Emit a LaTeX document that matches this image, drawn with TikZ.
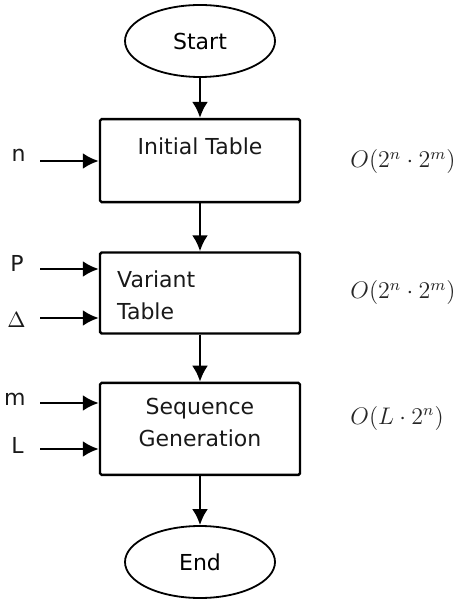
\documentclass[tikz,border=0pt]{standalone}
\usepackage{fontspec}
\setmainfont{DejaVu Sans}
\usepackage{tikz}
\usetikzlibrary{
        arrows.meta,
        positioning,
        shapes.geometric
    }
\tikzset{>={Latex[length=8pt,width=8pt]},node distance=25pt}
\tikzset{
    term/.style={draw,ellipse,line width=0.9pt,minimum width=75pt,minimum height=36pt,inner sep=0pt},
    stage/.style={draw,line width=1.2pt,rounded corners=0.8pt,minimum width=100pt,inner sep=0pt},
    txt/.style={inner sep=0pt,font=\fontsize{11}{16}\selectfont,text=black!90},
    cost/.style={inner sep=0pt,font=\fontsize{11.5}{14}\selectfont,text=black!85,anchor=west},
    flow/.style={->,line width=1.4pt}
}

\begin{document}
\begin{tikzpicture}[x=0.5pt,y=-0.5pt]
                    \useasboundingbox (0,0) rectangle (459,603);
                    % main chain
                    \node[term] (start) at (200,41) {\fontsize{11}{16}\selectfont Start};
                    \node[stage,minimum height=41.5pt] (init) [below=20pt of start] {};
                    \node[stage,minimum height=40.5pt] (var)  [below=24pt of init] {};
                    \node[stage,minimum height=46pt]   (seq)  [below=23.5pt of var] {};
                    \node[term] (end) [below=24.5pt of seq] {\fontsize{11}{16}\selectfont End};
                    % box texts
                    \node[txt] (inittxt) at ([yshift=-14pt]init.north) {Initial Table};
                    \node[txt,anchor=west,align=left] (vartxt) at ([xshift=9pt,yshift=-22pt]var.north west) {Variant\\Table};
                    \node[txt,align=center] (seqtxt) at ([yshift=-20.5pt]seq.north) {Sequence\\Generation};
                    \path[flow]
                        (start) edge (init)
                        (init)  edge (var)
                        (var)   edge (seq)
                        (seq)   edge (end);
                    % inputs
                    \coordinate (nin) at (40,161);
                    \coordinate (pin) at (40,269);
                    \coordinate (din) at (40,318);
                    \coordinate (min) at (40,403);
                    \coordinate (lin) at (40,449);
                    \node[txt,left=7pt of nin,yshift=3pt] (n) {n};
                    \node[txt,left=8pt of pin,yshift=3pt] (p) {P};
                    \node[txt,left=7pt of din,yshift=-1pt] (delta) {$\Delta$};
                    \node[txt,left=7pt of min,yshift=2pt] (m) {m};
                    \node[txt,left=8pt of lin,yshift=2pt] (l) {L};
                    \draw[flow] (nin) -- (nin -| init.west);
                    \draw[flow] (pin) -- (pin -| var.west);
                    \draw[flow] (din) -- (din -| var.west);
                    \draw[flow] (min) -- (min -| seq.west);
                    \draw[flow] (lin) -- (lin -| seq.west);
                    % costs
                    \node[cost] (c1) at (350,162) {$O(2^n\cdot 2^m)$};
                    \node[cost] (c2) at (350,293) {$O(2^n\cdot 2^m)$};
                    \node[cost] (c3) at (350,418) {$O(L\cdot 2^n)$};
                \end{tikzpicture}
\end{document}
